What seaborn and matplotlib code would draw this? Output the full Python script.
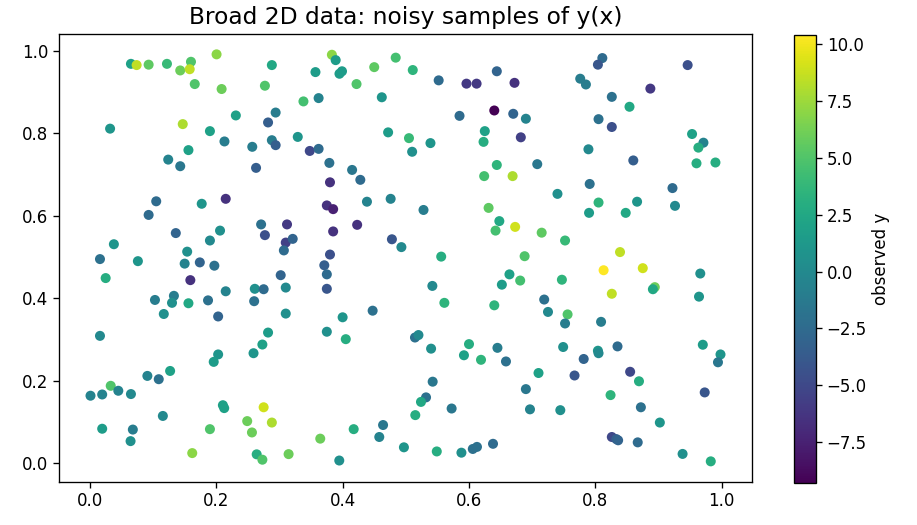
import matplotlib
matplotlib.use("Agg")
import matplotlib.pyplot as plt
import seaborn as sns
import pandas as pd
from matplotlib.colors import Normalize
from matplotlib.cm import ScalarMappable

x_vals = [
    0.065, 0.074, 0.093, 0.122, 0.160, 0.143, 0.158, 0.2005, 0.288, 0.166, 0.2085, 0.277, 0.231,
    0.294, 0.282, 0.032, 0.147, 0.190, 0.213, 0.257, 0.288, 0.294, 0.156, 0.124, 0.143, 0.263,
    0.383, 0.389, 0.357, 0.395, 0.399, 0.450, 0.484, 0.511, 0.422, 0.552, 0.596, 0.612, 0.644,
    0.672, 0.338, 0.362, 0.462, 0.585, 0.640, 0.670, 0.329, 0.472, 0.505, 0.539, 0.510, 0.625,
    0.623, 0.348, 0.362, 0.379, 0.415, 0.428, 0.380, 0.644, 0.624, 0.669,
    0.682, 0.811, 0.804, 0.776, 0.785, 0.946, 0.887, 0.826, 0.854, 0.690, 0.805, 0.826, 0.953,
    0.971, 0.963, 0.789, 0.708, 0.860, 0.960, 0.990,
    0.105, 0.177, 0.215, 0.093, 0.271, 0.312, 0.277, 0.310, 0.321, 0.307, 0.136, 0.206, 0.190,
    0.154, 0.038, 0.016, 0.076, 0.150, 0.174, 0.197, 0.025, 0.159, 0.302, 0.215, 0.261, 0.275,
    0.310, 0.103, 0.133, 0.130, 0.156, 0.187, 0.260, 0.117, 0.203, 0.310, 0.282, 0.016,
    0.4385, 0.476, 0.528, 0.375, 0.385, 0.423, 0.385, 0.478, 0.493, 0.380, 0.371, 0.375, 0.375,
    0.556, 0.542, 0.561, 0.631, 0.648, 0.642, 0.673, 0.664, 0.652, 0.640, 0.4475, 0.400, 0.375,
    0.791, 0.922, 0.740, 0.805, 0.790, 0.866, 0.848, 0.926, 0.715, 0.752, 0.688, 0.839, 0.813,
    0.875, 0.681, 0.747, 0.826, 0.894, 0.891, 0.966, 0.964, 0.719, 0.725, 0.756, 0.752, 0.809,
    0.273, 0.259, 0.203, 0.196, 0.127, 0.091, 0.109, 0.033, 0.001, 0.0195, 0.045, 0.065, 0.1155,
    0.2105, 0.2126, 0.275, 0.288, 0.249, 0.2565, 0.190, 0.0195, 0.068, 0.0644, 0.162, 0.264,
    0.273, 0.3145,
    0.405, 0.5145, 0.520, 0.540, 0.600, 0.592, 0.619, 0.645, 0.6585, 0.5425, 0.532, 0.524,
    0.5725, 0.515, 0.464, 0.458, 0.4175, 0.3646, 0.3947, 0.497, 0.549, 0.588, 0.606, 0.6126,
    0.638,
    0.749, 0.7815, 0.804, 0.805, 0.835, 0.710, 0.767, 0.855, 0.869, 0.690, 0.824, 0.973, 0.970,
    0.998, 0.994, 0.6965, 0.7445, 0.872, 0.902, 0.826, 0.833, 0.836, 0.867, 0.938, 0.9826,
]
y_vals = [
    0.968, 0.965, 0.966, 0.968, 0.973, 0.952, 0.955, 0.991, 0.965, 0.919, 0.907, 0.915, 0.843,
    0.850, 0.826, 0.811, 0.822, 0.805, 0.780, 0.767, 0.783, 0.771, 0.759, 0.736, 0.720, 0.716,
    0.990, 0.977, 0.948, 0.944, 0.950, 0.960, 0.983, 0.953, 0.919, 0.928, 0.920, 0.920, 0.950,
    0.922, 0.877, 0.885, 0.887, 0.842, 0.855, 0.847, 0.791, 0.802, 0.788, 0.776, 0.755, 0.805,
    0.779, 0.757, 0.762, 0.728, 0.711, 0.687, 0.681, 0.723, 0.696, 0.696,
    0.790, 0.982, 0.966, 0.932, 0.918, 0.965, 0.908, 0.888, 0.864, 0.835, 0.834, 0.815, 0.798,
    0.777, 0.765, 0.761, 0.725, 0.734, 0.727, 0.729,
    0.635, 0.629, 0.641, 0.602, 0.579, 0.579, 0.553, 0.535, 0.544, 0.516, 0.558, 0.564, 0.540,
    0.513, 0.531, 0.495, 0.490, 0.484, 0.487, 0.479, 0.449, 0.444, 0.456, 0.417, 0.423, 0.422,
    0.426, 0.396, 0.406, 0.389, 0.388, 0.395, 0.393, 0.362, 0.356, 0.363, 0.317, 0.309,
    0.634, 0.641, 0.614, 0.625, 0.616, 0.578, 0.562, 0.543, 0.524, 0.506, 0.480, 0.458, 0.423,
    0.501, 0.430, 0.389, 0.619, 0.587, 0.564, 0.573, 0.458, 0.433, 0.383, 0.370, 0.354, 0.319,
    0.677, 0.667, 0.653, 0.632, 0.607, 0.634, 0.607, 0.624, 0.559, 0.540, 0.502, 0.512, 0.468,
    0.473, 0.443, 0.445, 0.411, 0.427, 0.422, 0.460, 0.404, 0.397, 0.367, 0.361, 0.339, 0.343,
    0.288, 0.267, 0.264, 0.246, 0.224, 0.212, 0.204, 0.188, 0.164, 0.167, 0.176, 0.168, 0.115,
    0.141, 0.134, 0.136, 0.099, 0.1025, 0.075, 0.083, 0.084, 0.082, 0.054, 0.025, 0.022,
    0.009, 0.0225,
    0.301, 0.305, 0.311, 0.278, 0.289, 0.262, 0.251, 0.280, 0.247, 0.198, 0.160, 0.149,
    0.133, 0.117, 0.093, 0.064, 0.083, 0.060, 0.007, 0.039, 0.029, 0.026, 0.035, 0.040,
    0.0475,
    0.282, 0.253, 0.273, 0.267, 0.2835, 0.219, 0.213, 0.222, 0.199, 0.180, 0.1655, 0.172, 0.2875,
    0.264, 0.245, 0.131, 0.129, 0.136, 0.099, 0.064, 0.059, 0.056, 0.051, 0.023, 0.005,
]
obs_vals = [
    2, 8.5, 5.5, 4, 5, 6, 8.5, 7, 2.5, 5, 6, 5, 2,
    -1, -3.5, 1, 8, 2, -1, -1, -1, -3.5, 2, -0.5, -1.5, -3.5,
    7, 1.5, 1.5, 1.5, 1.5, 5.5, 4.5, 3.5, 5, -2.5, -6, -6, -3,
    -6.5, 4.5, -0.5, 1, -2.5, -9.3, -3, 1, 1.5, 4, 1, 0.5, 2,
    3, -5, -2.5, -2, -1.5, -2.5, -6.5, 3.5, 4.5, 8,
    -5.5, -2.5, -4, -1, -1, -4.5, -6, -2, 2.5, -0.5, -2, -4.5, 2,
    -0.5, 3, 0, -1.5, -3.5, 3, 3,
    -2.5, 1, -6.5, -2.5, -2, -6, -4.5, -5.5, -3, -2.5, -3, 0.5, 0,
    0.5, 1, -2, 1, -0.5, -3, -2, 3, -6.5, -3, -0.5, 0.5, -2.5,
    0, -1, -1, 0.5, 2.5, -2, -2, 0.5, -3, 0.5, 1.5, 0,
    -0.5, -0.5, -1, -6.5, -7.5, -6.5, -6.5, -4, 0, -4.5, -3.5, -2.5, -4,
    3, 0, 3.5, 5.5, 2.5, 4.5, 9, 2, 1.5, 3.5, -2, 1, 0.5,
    -2, -2.5, 0.5, 3.5, 1.5, 1, 2.5, 0, 5.5, 4, 5, 8.5, 10.4,
    9, 4.5, 3.5, 8.5, 6, 2.5, 0.5, 1, -2, 0, 5, -1, -1,
    2, 1, 1, 1.5, 2, -0.5, -2, 5, -0.5, -0.5, -0.5, 0, 0,
    2, 2, 9, 8, 6, 6, 5, 1.5, -1, 0.5, 7, 3,
    5, 6,
    3, -2, 0, 0.5, 3, 2, 3.5, -1, -2, -1.5, -2, 2.5,
    -1.5, 3, -1.5, -0.5, 3, 6, 0.5, 1, 3, 0.5, -2, -2,
    -2.5,
    0.5, -3, 1, 0, -2.5, 2, -4, -5, 3, -1.5, 3.5, -4, 1.5,
    1, -1.5, -0.5, 0.5, -2, 1, -5, -3.5, -3, -2.5, 0.5, 3,
]

df = pd.DataFrame({"x": x_vals, "y": y_vals, "obs": obs_vals})
norm = Normalize(vmin=min(obs_vals), vmax=max(obs_vals))

# reference looks like a ~1.2x dpi render, so scale text and lines
plt.rcParams.update({
    "xtick.major.size": 4.2, "ytick.major.size": 4.2,
    "xtick.major.width": 0.96, "ytick.major.width": 0.96,
    "axes.linewidth": 0.96,
})

fig = plt.figure(figsize=(9.17, 5.25), dpi=100)
ax = fig.add_axes([59 / 917, 1 - 481.7 / 525, (752 - 59) / 917, (481.7 - 34) / 525])
cax = fig.add_axes([794 / 917, 1 - 483 / 525, 22 / 917, (483 - 35) / 525])

sns.scatterplot(data=df, x="x", y="y", hue="obs", palette="viridis", hue_norm=norm,
                s=52, linewidth=0, legend=False, ax=ax)
ax.set_xlabel("")
ax.set_ylabel("")
ax.set_title("Broad 2D data: noisy samples of y(x)", fontsize=16.8, pad=7)
ax.tick_params(labelsize=12)

cb = fig.colorbar(ScalarMappable(norm=norm, cmap="viridis"), cax=cax)
cb.set_label("observed y", fontsize=12)
cb.ax.tick_params(labelsize=12)
cb.outline.set_linewidth(0.96)

fig.savefig("out.png", dpi=100)
